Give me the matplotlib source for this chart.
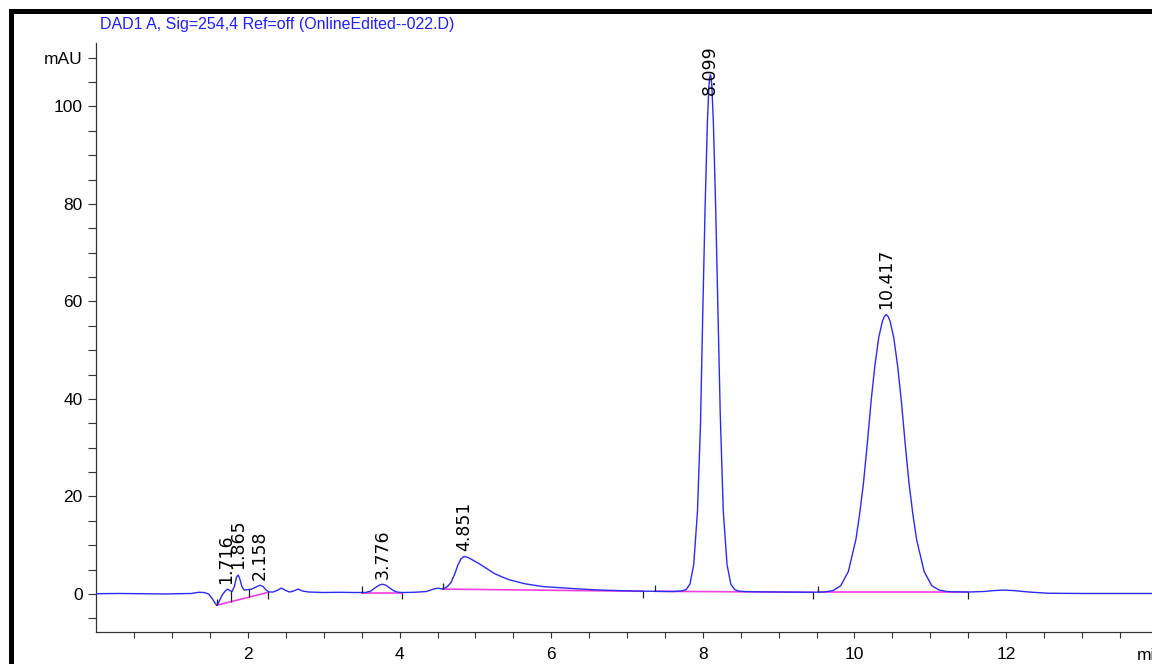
"""HPLC chromatogram (DAD1 A, 254 nm) redrawn in the ChemStation style."""

import matplotlib

matplotlib.use("Agg")
import matplotlib.pyplot as plt
import numpy as np
from matplotlib.lines import Line2D

plt.rcParams["font.family"] = ["Liberation Sans", "DejaVu Sans"]

TITLE = "DAD1 A, Sig=254,4 Ref=off (OnlineEdited--022.D)"

# detector trace (min, mAU)
TIME = [
    0.00, 0.30, 0.60, 0.90, 1.10, 1.25, 1.35, 1.42, 1.48, 1.53, 1.57, 1.59,
    1.62, 1.66, 1.70, 1.73, 1.76, 1.79, 1.82, 1.85, 1.87, 1.89, 1.92, 1.95,
    2.00, 2.05, 2.10, 2.16, 2.20, 2.24, 2.28, 2.33, 2.38, 2.44, 2.50, 2.55,
    2.60, 2.66, 2.72, 2.80, 3.00, 3.20, 3.40, 3.55, 3.62, 3.68, 3.73, 3.77,
    3.82, 3.87, 3.93, 3.98, 4.05, 4.20, 4.35, 4.45, 4.50, 4.57, 4.63, 4.68,
    4.73, 4.77, 4.81, 4.85, 4.90, 4.96, 5.05, 5.15, 5.25, 5.35, 5.45, 5.55,
    5.65, 5.77, 5.90, 6.00, 6.20, 6.40, 6.65, 6.90, 7.10, 7.40, 7.60, 7.72,
    7.78, 7.83, 7.88, 7.93, 7.97, 8.00, 8.03, 8.06, 8.08, 8.09, 8.10, 8.11,
    8.12, 8.14, 8.17, 8.20, 8.23, 8.27, 8.32, 8.37, 8.42, 8.47, 8.55, 8.70,
    9.00, 9.40, 9.60, 9.72, 9.82, 9.92, 10.02, 10.07, 10.12, 10.17, 10.22,
    10.27, 10.32, 10.37, 10.395, 10.42, 10.445, 10.47, 10.52, 10.57, 10.62,
    10.67, 10.72, 10.77, 10.82, 10.92, 11.02, 11.12, 11.22, 11.30, 11.50,
    11.70, 11.85, 11.96, 12.10, 12.30, 12.55, 13.00, 13.50, 14.00,
]
SIGNAL = [
    0.05, 0.10, 0.05, 0.00, 0.05, 0.10, 0.35, 0.30, 0.00, -1.00, -2.00, -2.30,
    -1.50, -0.20, 0.60, 1.00, 0.70, 0.50, 1.50, 3.50, 3.90, 3.20, 1.50, 0.80,
    0.90, 1.00, 1.40, 1.80, 1.50, 0.80, 0.40, 0.40, 0.70, 1.20, 0.70, 0.40,
    0.60, 1.00, 0.60, 0.40, 0.30, 0.35, 0.30, 0.30, 0.60, 1.30, 1.80, 2.00,
    1.80, 1.20, 0.60, 0.35, 0.30, 0.35, 0.50, 1.00, 1.20, 1.00, 1.50, 2.40,
    4.20, 6.00, 7.20, 7.70, 7.50, 7.00, 6.20, 5.20, 4.20, 3.50, 2.90, 2.50,
    2.10, 1.80, 1.50, 1.40, 1.20, 1.00, 0.80, 0.70, 0.60, 0.55, 0.50, 0.60,
    0.90, 2.00, 6.00, 17.0, 35.0, 58.0, 79.0, 96.5, 103.9, 105.8, 106.5, 105.8,
    103.9, 96.5, 79.0, 58.0, 37.0, 17.0, 6.00, 2.00, 0.90, 0.60, 0.50, 0.45,
    0.40, 0.35, 0.40, 0.70, 1.70, 4.60, 11.2, 16.5, 22.8, 30.8, 39.5,
    46.8, 52.5, 56.0, 56.9, 57.3, 56.9, 56.0, 52.5, 46.8, 39.5,
    30.8, 22.8, 16.5, 11.2, 4.60, 1.70, 0.80, 0.50, 0.45, 0.40,
    0.50, 0.70, 0.80, 0.70, 0.40, 0.15, 0.10, 0.10, 0.10,
]

# integration: retention times and baseline segments
PEAK_RT = [1.716, 1.865, 2.158, 3.776, 4.851, 8.099, 10.417]
BASE_T0 = [1.59, 3.50, 4.57, 7.37, 9.52]
BASE_V0 = [-2.30, 0.30, 1.00, 0.55, 0.35]
BASE_T1 = [2.27, 4.03, 7.21, 9.45, 11.50]
BASE_V1 = [0.35, 0.30, 0.55, 0.35, 0.35]
DROP_T = [1.776, 2.01]

BLUE = "#2b2bf2"
PINK = "#f23fe0"
TICK_LEN = 1.3  # mAU, for the peak start/stop marks
# wider face for the rotated labels: the screenshot is stretched vertically
LABEL_FONT = ["DejaVu Sans"]


def main() -> None:
    fig = plt.figure(figsize=(11.52, 6.64), dpi=100)
    ax = fig.add_axes([96.4 / 1152, 32 / 664, 1061.2 / 1152, 589 / 664])

    ax.plot(TIME, SIGNAL, color=BLUE, lw=1.0, zorder=3)

    # baselines + start (up) / stop (down) marks
    for t0, v0, t1, v1 in zip(BASE_T0, BASE_V0, BASE_T1, BASE_V1):
        ax.plot([t0, t1], [v0, v1], color=PINK, lw=1.2, zorder=2)
        ax.vlines(t0, v0, v0 + TICK_LEN, color="#222222", lw=0.9, zorder=4)
        ax.vlines(t1, v1 - TICK_LEN, v1, color="#222222", lw=0.9, zorder=4)

    # valley drop lines for the first cluster
    for t in DROP_T:
        base = np.interp(t, [BASE_T0[0], BASE_T1[0]], [BASE_V0[0], BASE_V1[0]])
        top = np.interp(t, TIME, SIGNAL)
        ax.vlines(t, base, top, color="#222222", lw=0.9, zorder=4)

    for rt in PEAK_RT:
        apex = max(s for t, s in zip(TIME, SIGNAL) if abs(t - rt) <= 0.04)
        if apex > 95:
            ax.text(rt, 112.6, f"{rt:.3f}", rotation=90, ha="center", va="top",
                    fontsize=12.5, family=LABEL_FONT, zorder=5)
        else:
            ax.annotate(f"{rt:.3f}", xy=(rt, apex), xytext=(0, 4),
                        textcoords="offset points", rotation=90,
                        ha="center", va="bottom", fontsize=12.5,
                        family=LABEL_FONT, zorder=5)

    ax.set_xlim(0, 14)
    ax.set_ylim(-7.8, 113)

    ax.set_xticks([2, 4, 6, 8, 10, 12])
    ax.set_xticks(np.arange(0.5, 14, 0.5), minor=True)
    ax.set_yticks([0, 20, 40, 60, 80, 100, 110])
    ax.set_yticklabels(["0", "20", "40", "60", "80", "100", "mAU"])
    ax.set_yticks(np.arange(-5, 111, 5), minor=True)
    ax.get_yticklabels()[-1].set_fontsize(10)

    ax.tick_params(axis="x", which="both", length=4.5, width=0.8,
                   color="#333333", labelsize=12.5, pad=6)
    ax.tick_params(axis="y", which="both", length=6, width=0.8,
                   color="#333333", labelsize=12.5, pad=4)

    for side in ("top", "right"):
        ax.spines[side].set_visible(False)
    for side in ("left", "bottom"):
        ax.spines[side].set_color("#333333")
        ax.spines[side].set_linewidth(0.9)

    ax.text(13.72, -(656 - 632) / 589, "min", transform=ax.get_xaxis_transform(),
            ha="left", va="center", fontsize=12.5)

    fig.text(100 / 1152, 1 - 25 / 664, TITLE, color="#2020ff",
             fontsize=11.5, ha="left", va="center")

    # page frame around the figure
    fig.add_artist(Line2D([10.5 / 1152, 1.0], [1 - 10.5 / 664] * 2,
                          transform=fig.transFigure, color="black", lw=3.6,
                          solid_capstyle="projecting"))
    fig.add_artist(Line2D([10.5 / 1152] * 2, [0.0, 1 - 10.5 / 664],
                          transform=fig.transFigure, color="black", lw=3.6,
                          solid_capstyle="projecting"))

    fig.savefig("out.png", dpi=100)
    plt.close(fig)


if __name__ == "__main__":
    main()
